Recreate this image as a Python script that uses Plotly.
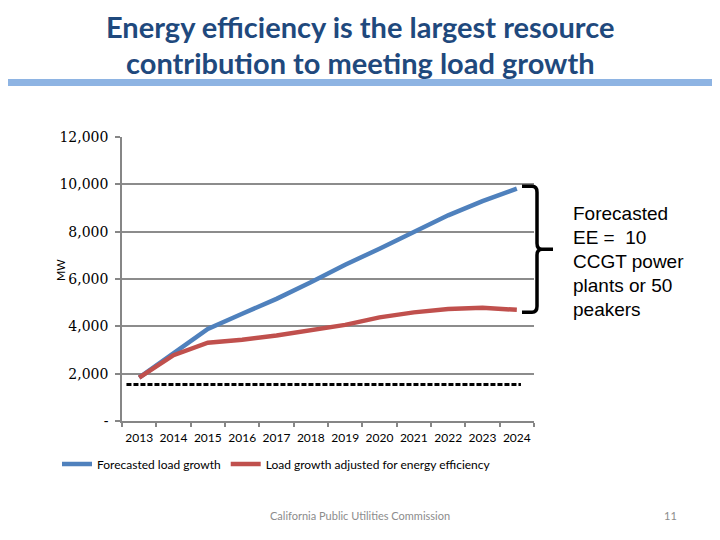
import plotly.graph_objects as go

# ---- data ----
years = ["2013", "2014", "2015", "2016", "2017", "2018", "2019", "2020", "2021", "2022", "2023", "2024"]
forecasted_load_growth = [1830, 2880, 3890, 4530, 5160, 5860, 6600, 7280, 7990, 8690, 9290, 9820]
adjusted_for_ee = [1830, 2780, 3310, 3430, 3610, 3830, 4060, 4380, 4590, 4730, 4780, 4700]
baseline_mw = 1540
y_tick_vals = [0, 2000, 4000, 6000, 8000, 10000, 12000]
y_tick_text = ["-", "2,000", "4,000", "6,000", "8,000", "10,000", "12,000"]
title_lines = ["Energy efficiency is the largest resource", "contribution to meeting load growth"]
note_lines = ["Forecasted", "EE =  10", "CCGT power", "plants or 50", "peakers"]

# ---- layout geometry (page pixels; the page body adds an 8px offset) ----
OFF = 8
W, H = 720 - OFF, 540 - OFF
ML, MT = 122 - OFF, 137 - OFF
PW, PH = 412, 284
MR = W - ML - PW
MB = H - MT - PH


def px_x(p):
    return (p - OFF - ML) / PW


def px_y(p):
    return (H - MB - (p - OFF)) / PH


fig = go.Figure()
fig.add_trace(go.Scatter(
    x=years, y=forecasted_load_growth, mode="lines", name="Forecasted load growth",
    line=dict(color="#4F81BD", width=4.5),
))
fig.add_trace(go.Scatter(
    x=years, y=adjusted_for_ee, mode="lines", name="Load growth adjusted for energy efficiency",
    line=dict(color="#C0504D", width=4.5),
))

shapes = []
# dashed baseline
shapes.append(dict(type="line", xref="x", yref="y", x0=-0.37, x1=11.12, y0=baseline_mw, y1=baseline_mw,
                   line=dict(color="black", width=3, dash="5px,2px")))
# bracket
top = forecasted_load_growth[-1] + 100
bot = adjusted_for_ee[-1] - 100
mid = (top + bot) / 2
xa, xb, xc = px_x(522), px_x(537), px_x(553)
r = 250
path = (f"M {xa},{top} L {xb - 0.012},{top} Q {xb},{top} {xb},{top - r} "
        f"L {xb},{mid + r} Q {xb},{mid} {xb + 0.012},{mid} L {xc},{mid} "
        f"M {xb + 0.012},{mid} Q {xb},{mid} {xb},{mid - r} "
        f"L {xb},{bot + r} Q {xb},{bot} {xb - 0.012},{bot} L {xa},{bot}")
shapes.append(dict(type="path", xref="paper", yref="y", path=path,
                   line=dict(color="black", width=3.5)))
# blue header rule
shapes.append(dict(type="rect", xref="paper", yref="paper", x0=px_x(0), x1=px_x(730),
                   y0=px_y(86), y1=px_y(79), line=dict(width=0), fillcolor="#8EB4E3"))

annotations = []
for t, yc in zip(title_lines, [26.5, 62.5]):
    annotations.append(dict(text=t, xref="paper", yref="paper", x=px_x(360), y=px_y(yc),
                            xanchor="center", yanchor="middle", showarrow=False,
                            font=dict(family="Lato", size=29, color="#1F497D", weight="bold")))
for i, t in enumerate(note_lines):
    annotations.append(dict(text=t, xref="paper", yref="paper", x=px_x(571), y=px_y(213 + 24 * i),
                            xanchor="left", yanchor="middle", showarrow=False,
                            font=dict(family="Liberation Sans", size=19, color="black")))
annotations.append(dict(text="MW", xref="paper", yref="paper", x=px_x(60), y=px_y(270),
                        xanchor="center", yanchor="middle", showarrow=False, textangle=-90,
                        font=dict(family="Lato", size=11, color="black")))
annotations.append(dict(text="California Public Utilities Commission", xref="paper", yref="paper",
                        x=px_x(360), y=px_y(515), xanchor="center", yanchor="middle", showarrow=False,
                        font=dict(family="Lato", size=11, color="#8C8C8C")))
annotations.append(dict(text="11", xref="paper", yref="paper",
                        x=px_x(670), y=px_y(515), xanchor="center", yanchor="middle", showarrow=False,
                        font=dict(family="Lato", size=11, color="#8C8C8C")))

fig.update_layout(
    width=W, height=H,
    margin=dict(l=ML, r=MR, t=MT, b=MB, autoexpand=False),
    paper_bgcolor="white", plot_bgcolor="white",
    shapes=shapes, annotations=annotations,
    showlegend=True,
    legend=dict(orientation="h", x=px_x(57), y=px_y(464), xanchor="left", yanchor="middle",
                font=dict(family="Lato", size=12, color="black"), itemwidth=30,
                bgcolor="rgba(0,0,0,0)"),
    xaxis=dict(type="category", range=[-0.5, 11.5], tickson="boundaries", ticks="outside",
               ticklen=4, tickcolor="#868686", tickwidth=1.5, showgrid=False, tickangle=0,
               showline=True, linecolor="#868686", linewidth=1.5, automargin=False,
               ticklabelstandoff=5,
               tickfont=dict(family="Lato", size=12, color="black"), fixedrange=True),
    yaxis=dict(range=[0, 12000], tickvals=y_tick_vals, ticktext=y_tick_text, ticks="outside",
               ticklen=5, tickcolor="#868686", tickwidth=1.5, showgrid=True, automargin=False,
               gridcolor="#8C8C8C", gridwidth=1.5, showline=True, linecolor="#868686",
               linewidth=1.5, zeroline=False, ticklabelstandoff=4,
               tickfont=dict(family="DejaVu Serif", size=14, color="black"), fixedrange=True),
)

fig.write_html("out.html")
